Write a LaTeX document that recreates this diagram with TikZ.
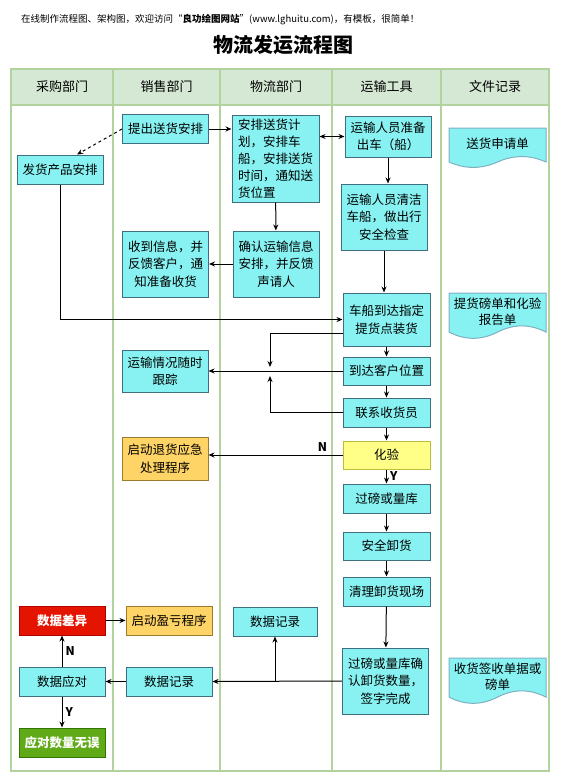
\documentclass[tikz,border=0pt]{standalone}
\usepackage{fontspec}
\setmainfont{Noto Sans CJK SC}
\usetikzlibrary{arrows.meta,positioning,calc}
\definecolor{procfill}{HTML}{88F2F2}
\definecolor{procline}{HTML}{3F6F7F}
\definecolor{docline}{HTML}{7FB0C0}
\definecolor{lanehead}{HTML}{D5E8D4}
\definecolor{laneline}{HTML}{B3D39E}
\definecolor{chkfill}{HTML}{FFFF88}
\definecolor{chkline}{HTML}{BDBD3C}
\definecolor{warnfill}{HTML}{FFD466}
\definecolor{warnline}{HTML}{9C7A2E}
\definecolor{badfill}{HTML}{E51400}
\definecolor{badline}{HTML}{B20000}
\definecolor{goodfill}{HTML}{60A917}
\definecolor{goodline}{HTML}{2D7600}

\begin{document}
\begin{tikzpicture}[x=1pt, y=-1pt, >={Stealth[length=6pt,width=5pt]},
  proc/.style={draw=procline, fill=procfill, line width=1pt, minimum width=86pt, minimum height=29pt, inner sep=1pt, align=center, font=\fontsize{12.5}{17.5}\selectfont},
  chk/.style={proc, draw=chkline, fill=chkfill},
  warn/.style={proc, draw=warnline, fill=warnfill},
  bad/.style={proc, draw=badline, fill=badfill, text=white, font=\fontsize{12.5}{17.5}\selectfont\bfseries},
  good/.style={bad, draw=goodline, fill=goodfill},
  flow/.style={->, line width=1pt},
  yn/.style={font=\fontsize{12}{12}\selectfont\bfseries, inner sep=3pt}]
\useasboundingbox (0,0) rectangle (561,784);

% title and note
\node[anchor=west, font=\fontsize{9.5}{9.5}\selectfont, inner sep=0pt] (note) at (21,20) {在线制作流程图、架构图，欢迎访问“\textbf{良功绘图网站}”(www.lghuitu.com)，有模板，很简单！};
\node[font=\fontsize{20}{20}\selectfont\bfseries] (title) at (283,45) {物流发运流程图};

% lanes
\fill[lanehead] (11,69) rectangle (549,105);
\draw[laneline, line width=1.1pt] (11,69) rectangle (549,771) (11,105) -- (549,105);
\foreach \lx in {113,220,332,441}
  \draw[laneline, line width=1.1pt] (\lx,69) -- (\lx,771);
\foreach \cx/\ln/\lt in {62/laneA/采购部门, 166.5/laneB/销售部门, 276/laneC/物流部门, 386.5/laneD/运输工具, 495/laneE/文件记录}
  \node[font=\fontsize{13}{13}\selectfont] (\ln) at (\cx,87) {\lt};

% documents
\foreach \dtop/\dh/\dname/\dtext in {128/40/docA/{送货申请单}, 293/46/docB/{提货磅单和化验\\报告单}, 658/46/docC/{收货签收单据或\\磅单}}{
  \begin{scope}[shift={(449,\dtop)}]
    \draw[docline, fill=procfill, line width=1pt] (0,0) -- (97,0) -- (97,{0.85*\dh})
      .. controls ({97*5/6},{0.67*\dh}) and ({97*2/3},{0.67*\dh}) .. ({97/2},{0.85*\dh})
      .. controls ({97/3},{1.03*\dh}) and ({97/6},{1.03*\dh}) .. (0,{0.85*\dh}) -- cycle;
    \node[align=center, font=\fontsize{12.5}{16}\selectfont, inner sep=0pt] (\dname) at (48.5,{0.4*\dh}) {\dtext};
  \end{scope}
}

% process boxes
\node[proc] (plan) at (165.5,129) {提出送货安排};
\node[proc] (ship) at (60,169.5) {发货产品安排};
\node[proc, align=left, minimum width=87pt, minimum height=87pt, font=\fontsize{12.5}{17}\selectfont] (sched) at (275.5,158.5) {安排送货计\\划，安排车\\船，安排送货\\时间，通知送\\货位置};
\node[proc, minimum height=41pt] (ready) at (388,136.5) {运输人员准备\\出车（船）};
\node[proc, minimum height=66pt] (clean) at (384,217) {运输人员清洁\\车船，做出行\\安全检查};
\node[proc, minimum height=66pt] (confirm) at (276,264) {确认运输信息\\安排，并反馈\\声请人};
\node[proc, minimum height=66pt] (notify) at (165.5,264) {收到信息，并\\反馈客户，通\\知准备收货};
\node[proc, minimum width=87pt, minimum height=53pt] (load) at (386.5,319.5) {车船到达指定\\提货点装货};
\node[proc, minimum width=87pt, minimum height=28pt] (arrive) at (386.5,371) {到达客户位置};
\node[proc, minimum height=42pt] (track) at (165,371) {运输情况随时\\跟踪};
\node[proc, minimum width=87pt] (contact) at (386.5,412.5) {联系收货员};
\node[chk, minimum width=87pt, minimum height=28pt] (test) at (386.5,455) {化验};
\node[warn, minimum height=43pt] (back) at (165,458.5) {启动退货应急\\处理程序};
\node[proc, minimum width=87pt] (weigh) at (386.5,498.5) {过磅或量库};
\node[proc, minimum width=87pt, minimum height=28pt] (unload) at (386.5,546) {安全卸货};
\node[proc, minimum width=87pt] (tidy) at (386.5,591.5) {清理卸货现场};
\node[bad] (diff) at (62,620.5) {数据差异};
\node[warn] (gain) at (169,620.5) {启动盈亏程序};
\node[proc, minimum width=84pt] (logL) at (275,621.5) {数据记录};
\node[proc, minimum height=66pt] (final) at (385.5,681) {过磅或量库确\\认卸货数量，\\签字完成};
\node[proc] (reply) at (62,681.5) {数据应对};
\node[proc] (logS) at (169,681.5) {数据记录};
\node[good] (okay) at (62,742.5) {应对数量无误};

\coordinate (mid) at (270,371);
\coordinate (fork) at (logL.south |- final.west);

% connectors
\draw[flow, dashed] (plan.west) -- ([xshift=17pt]ship.north);
\draw[flow] (plan.east) -- (plan.east -| sched.west);
\draw[<->, line width=1pt] (ready.west -| sched.east) -- (ready.west);
\draw[flow] (sched) -- (confirm);
\draw[flow] (confirm) -- (notify);
\draw[flow] (ready.south) -- (ready.south |- clean.north);
\draw[flow] (clean.south) -- (clean.south |- load.north);
\draw[flow] (ship.south) |- (load.west);
\draw[flow] ([yshift=-13.5pt]load.west) -| ([yshift=4pt]mid);
\draw[flow] (contact.west) -| ([yshift=-5pt]mid);
\draw[flow] (arrive.west) -- (track.east);
\draw[flow] (load) -- (arrive);
\draw[flow] (arrive) -- (contact);
\draw[flow] (contact) -- (test);
\draw[flow] (test.west) -- (test.west -| back.east) node[yn, above, pos=0.15] {N};
\draw[flow] (test) -- (weigh) node[yn, right, midway] {Y};
\draw[flow] (weigh) -- (unload);
\draw[flow] (unload) -- (tidy);
\draw[flow] (tidy) -- (final);
\draw[flow] (final.west) -- (logS.east);
\draw[flow] (fork) -- (logL.south);
\draw[flow] (logS) -- (reply);
\draw[flow] (reply) -- (diff) node[yn, right, midway] {N};
\draw[flow] (reply) -- (okay) node[yn, right, midway] {Y};
\draw[flow] (diff) -- (gain);
\end{tikzpicture}
\end{document}
